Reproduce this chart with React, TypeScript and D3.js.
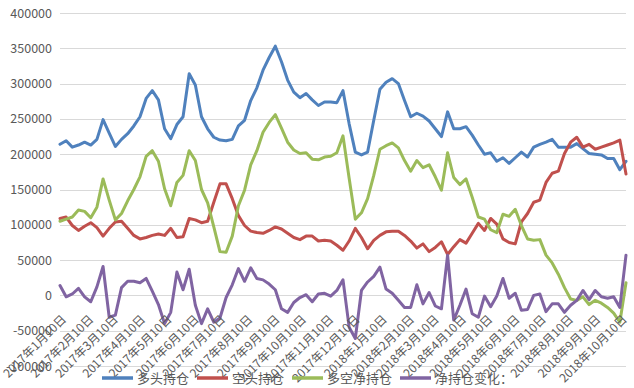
import * as d3 from "d3";

// Weekly positions, first report 2017-01-10
const START = new Date(2017, 0, 10);

// 多头持仓
const LONG = [
  214000, 219000, 210000, 213000, 217000, 213000, 221000, 249000, 230000, 211000, 221000,
  229000, 240000, 253000, 279000, 290000, 277000, 236000, 222000, 242000, 253000, 314000,
  298000, 253000, 236000, 224000, 220000, 219000, 221000, 240000, 248000, 276000, 294000,
  319000, 337000, 353000, 331000, 305000, 288000, 280000, 286000, 277000, 269000, 274000,
  274000, 273000, 290000, 243000, 203000, 199000, 203000, 248000, 292000, 302000, 307000,
  300000, 276000, 253000, 258000, 254000, 247000, 236000, 225000, 260000,
  236000, 236000, 239000, 227000, 213000, 200000, 202000, 190000, 195000, 187000, 195000,
  203000, 196000, 210000, 214000, 217000, 221000, 210000, 210000, 210000, 215000, 208000,
  201000, 200000, 199000, 194000, 194000, 178000, 190000,
];

// 空头持仓
const SHORT = [
  109000, 111000, 99000, 92000, 98000, 103000, 96000, 84000, 95000, 104000, 105000,
  95000, 85000, 80000, 82000, 85000, 87000, 85000, 95000, 82000, 83000, 109000,
  107000, 103000, 105000, 132000, 158000, 158000, 137000, 113000, 99000, 91000, 89000,
  88000, 92000, 97000, 94000, 88000, 82000, 79000, 84000, 84000, 77000, 78000,
  77000, 71000, 64000, 77000, 95000, 82000, 66000, 78000, 85000, 90000, 91000,
  91000, 85000, 77000, 67000, 73000, 62000, 68000, 76000, 58000,
  69000, 79000, 74000, 88000, 102000, 92000, 109000, 101000, 80000, 75000, 73000,
  104000, 116000, 132000, 135000, 160000, 173000, 176000, 201000, 217000, 224000, 210000,
  214000, 207000, 210000, 213000, 216000, 220000, 172000,
];

// 多空净持仓
const NET = [
  105000, 108000, 111000, 121000, 119000, 110000, 125000, 165000, 135000, 107000, 116000,
  134000, 150000, 168000, 197000, 205000, 190000, 151000, 127000, 160000, 170000, 205000,
  191000, 150000, 131000, 97000, 62000, 61000, 84000, 127000, 149000, 185000, 205000,
  231000, 245000, 256000, 237000, 217000, 206000, 201000, 202000, 193000, 192000, 196000,
  197000, 202000, 226000, 166000, 108000, 117000, 137000, 170000, 207000, 212000, 216000,
  209000, 191000, 176000, 191000, 181000, 185000, 168000, 149000, 202000,
  167000, 157000, 165000, 139000, 111000, 108000, 93000, 89000, 115000, 112000, 122000,
  99000, 80000, 78000, 79000, 57000, 46000, 30000, 11000, -5000, -7000, -2000,
  -13000, -7000, -11000, -17000, -25000, -38000, 18000,
];

// 净持仓变化：
const CHANGE = [
  14000, -2000, 2000, 10000, -2000, -9000, 12000, 41000, -31000, -28000, 11000,
  20000, 20000, 18000, 24000, 6000, -13000, -40000, -24000, 33000, 8000, 37000,
  -14000, -40000, -19000, -38000, -32000, -3000, 15000, 38000, 20000, 39000, 24000,
  22000, 16000, 8000, -19000, -24000, -10000, -3000, 1000, -9000, 2000, 3000,
  -1000, 7000, 22000, -45000, -61000, 7000, 19000, 27000, 40000, 9000, 3000,
  -7000, -17000, -17000, 15000, -12000, 4000, -15000, -19000, 57000,
  -35000, -14000, 9000, -26000, -31000, -1000, -16000, -1000, 24000, -4000, 3000,
  -21000, -20000, 0, 2000, -23000, -12000, -12000, -24000, -14000, -7000, 7000,
  -6000, 7000, -2000, -4000, -2000, -17000, 57000,
];

const SERIES_NAMES = ["多头持仓", "空头持仓", "多空净持仓", "净持仓变化："];
const COLORS = ["#4F81BD", "#C0504D", "#9BBB59", "#8064A2"];

const X_LABELS = [
  "2017年1月10日", "2017年2月10日", "2017年3月10日", "2017年4月10日", "2017年5月10日",
  "2017年6月10日", "2017年7月10日", "2017年8月10日", "2017年9月10日", "2017年10月10日",
  "2017年11月10日", "2017年12月10日", "2018年1月10日", "2018年2月10日", "2018年3月10日",
  "2018年4月10日", "2018年5月10日", "2018年6月10日", "2018年7月10日", "2018年8月10日",
  "2018年9月10日", "2018年10月10日",
];

const Y_TICKS = [-100000, -50000, 0, 50000, 100000, 150000, 200000, 250000, 300000, 350000, 400000];

const FONT = "'Noto Sans CJK SC', 'Noto Sans', sans-serif";
const TEXT = "#595959";

function parseLabel(s: string): Date {
  const m = s.match(/(\d+)年(\d+)月(\d+)日/)!;
  return new Date(+m[1], +m[2] - 1, +m[3]);
}

export default function App() {
  const width = 634;
  const height = 388;

  const dates = LONG.map((_, i) => d3.timeWeek.offset(START, i));
  const x = d3
    .scaleTime()
    .domain([dates[0], dates[dates.length - 1]])
    .range([60, 626]);
  const y = d3.scaleLinear().domain([-100000, 400000]).range([366, 13]);

  const line = d3
    .line<number>()
    .x((_, i) => x(dates[i]))
    .y((d) => y(d));

  const series = [LONG, SHORT, NET, CHANGE];

  // legend layout: sample line + text, widths from char count
  let lx = 102;
  const legend = SERIES_NAMES.map((name, i) => {
    const item = { name, color: COLORS[i], x: lx };
    lx += 35 + name.length * 13 + 8;
    return item;
  });

  return (
    <svg
      width={width}
      height={height}
      style={{ position: "absolute", left: 0, top: 0, background: "#fff" }}
      fontFamily={FONT}
    >
      {/* gridlines */}
      {Y_TICKS.map((t) => (
        <line
          key={t}
          x1={60}
          x2={626}
          y1={Math.round(y(t)) + 0.5}
          y2={Math.round(y(t)) + 0.5}
          stroke="#D9D9D9"
          strokeWidth={1}
        />
      ))}

      {/* y labels */}
      {Y_TICKS.map((t) => (
        <text
          key={t}
          x={52}
          y={y(t)}
          dy="0.36em"
          textAnchor="end"
          fontSize={12.5}
          fill={TEXT}
        >
          {t}
        </text>
      ))}

      {/* series */}
      {series.map((s, i) => (
        <path
          key={i}
          d={line(s) ?? ""}
          fill="none"
          stroke={COLORS[i]}
          strokeWidth={3}
          strokeLinejoin="round"
          strokeLinecap="round"
        />
      ))}

      {/* x labels, rotated */}
      {X_LABELS.map((lab) => {
        const px = x(parseLabel(lab)) + 7;
        const py = 320;
        return (
          <text
            key={lab}
            x={px}
            y={py}
            textAnchor="end"
            fontSize={12}
            fill={TEXT}
            transform={`rotate(-45 ${px} ${py})`}
          >
            {lab}
          </text>
        );
      })}

      {/* legend */}
      {legend.map((l) => (
        <g key={l.name}>
          <line
            x1={l.x}
            x2={l.x + 31}
            y1={378}
            y2={378}
            stroke={l.color}
            strokeWidth={3.5}
          />
          <text x={l.x + 35} y={378} dy="0.36em" fontSize={13} fill={TEXT}>
            {l.name}
          </text>
        </g>
      ))}
    </svg>
  );
}
